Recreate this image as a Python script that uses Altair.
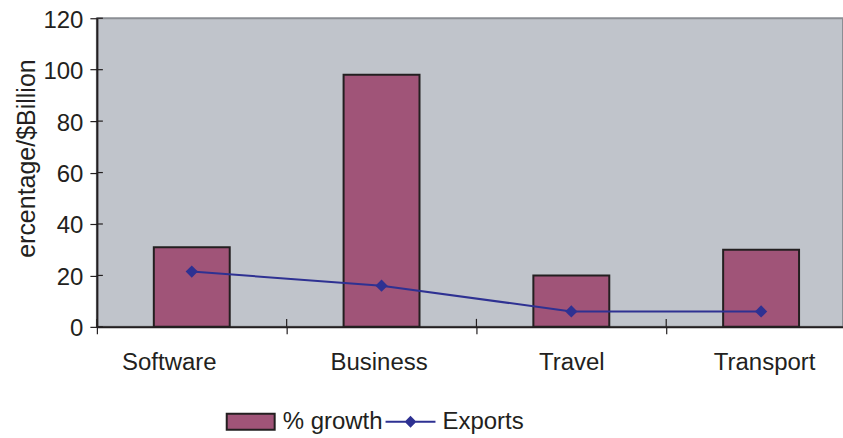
import altair as alt
import pandas as pd

# ---- data ----
categories = ["Software", "Business", "Travel", "Transport"]
growth = [31, 98, 20, 30]          # % growth (bars)
exports = [21.5, 16, 6, 6]         # Exports (line)
y_ticks = [0, 20, 40, 60, 80, 100, 120]
bar_series = "% growth"
line_series = "Exports"
y_title = "ercentage/$Billion"

df = pd.DataFrame({
    "category": categories,
    "growth": growth,
    "exports": exports,
    "s1": [bar_series] * len(categories),
    "s2": [line_series] * len(categories),
})
ticks_df = pd.DataFrame({"v": y_ticks})

FONT = "Liberation Sans"
DARK = "#231f20"
BAR = "#a05478"
LINE = "#2e3192"
PLOT_BG = "#c0c4cb"

x_scale = alt.Scale(paddingInner=0, paddingOuter=0, range=[0, 760])
x_axis = alt.Axis(
    labelAngle=0, tickBand="extent", labelFontSize=24, labelFont=FONT,
    labelColor=DARK, labelPadding=17, labelBaseline="top",
    labelOffset={
        "condition": [
            {"test": "datum.value == 'Software'", "value": -23},
            {"test": "datum.value == 'Business'", "value": -3},
            {"test": "datum.value == 'Transport'", "value": 3},
        ],
        "value": 0,
    },
    tickSize=7, tickColor=DARK, tickWidth=1.2,
    domainColor=DARK, domainWidth=2, title=None,
)
y_scale = alt.Scale(domain=[0, 120], nice=False)
y_axis = alt.Axis(
    values=y_ticks, grid=False, labelFontSize=24, labelFont=FONT,
    labelColor=DARK, labelPadding=7, labelOffset=2, tickSize=7, tickColor=DARK,
    tickWidth=1.2, domainColor=DARK, domainWidth=2,
    title=y_title, titleFont=FONT, titleFontSize=25, titleFontWeight="normal",
    titleColor=DARK, titleAngle=270, titleX=-62, titleY=140,
    titleAlign="center", titleBaseline="alphabetic",
)

x_enc = alt.X("category:N", sort=categories, scale=x_scale, axis=x_axis)

bars = alt.Chart(df).mark_bar(size=76, stroke=DARK, strokeWidth=2).encode(
    x=x_enc,
    y=alt.Y("growth:Q", scale=y_scale, axis=y_axis),
    fill=alt.Fill(
        "s1:N",
        scale=alt.Scale(domain=[bar_series], range=[BAR]),
        legend=alt.Legend(
            title=None, orient="none", legendX=129, legendY=379,
            symbolType="M-1,-0.333H1V0.333H-1Z", symbolSize=2304,
            symbolStrokeColor=DARK, symbolStrokeWidth=2,
            symbolFillColor=BAR,
            labelFontSize=24, labelFont=FONT, labelColor=DARK,
            labelOffset=7, padding=0,
        ),
    ),
)

line = alt.Chart(df).mark_line(strokeWidth=2).encode(
    x=x_enc,
    y=alt.Y("exports:Q", scale=y_scale, axis=y_axis),
    stroke=alt.Stroke(
        "s2:N",
        scale=alt.Scale(domain=[line_series], range=[LINE]),
        legend=alt.Legend(
            title=None, orient="none", legendX=288, legendY=378,
            symbolType="M-1,0H1M0,-0.18L0.18,0L0,0.18L-0.18,0Z",
            symbolSize=2500, symbolFillColor=LINE, symbolStrokeWidth=2,
            labelFontSize=24, labelFont=FONT, labelColor=DARK,
            labelOffset=6, padding=0,
        ),
    ),
)

points = alt.Chart(df).mark_point(
    shape="diamond", filled=True, size=150, color=LINE, opacity=1
).encode(
    x=x_enc,
    y=alt.Y("exports:Q", scale=y_scale, axis=y_axis),
)

# inner halves of the crossing tick marks
y_inner = alt.Chart(ticks_df).mark_rule(color=DARK, strokeWidth=1.2).encode(
    y=alt.Y("v:Q", scale=y_scale, axis=y_axis),
    x=alt.value(0), x2=alt.value(6),
)
x_inner = alt.Chart(df).mark_rule(color=DARK, strokeWidth=1.2).encode(
    x=alt.X("category:N", sort=categories, scale=x_scale, axis=x_axis, bandPosition=0),
    y=alt.value(301), y2=alt.value(309),
)

chart = alt.layer(bars, y_inner, x_inner, line, points).properties(
    width=747, height=309,
    autosize=alt.AutoSizeParams(type="none"),
    padding={"left": 97, "top": 18, "right": 0, "bottom": 111},
    background="white",
).configure_view(
    fill=PLOT_BG, stroke="#8b8e94", strokeWidth=2,
)

chart.save("out.html", embed_options={"renderer": "svg", "actions": False})
